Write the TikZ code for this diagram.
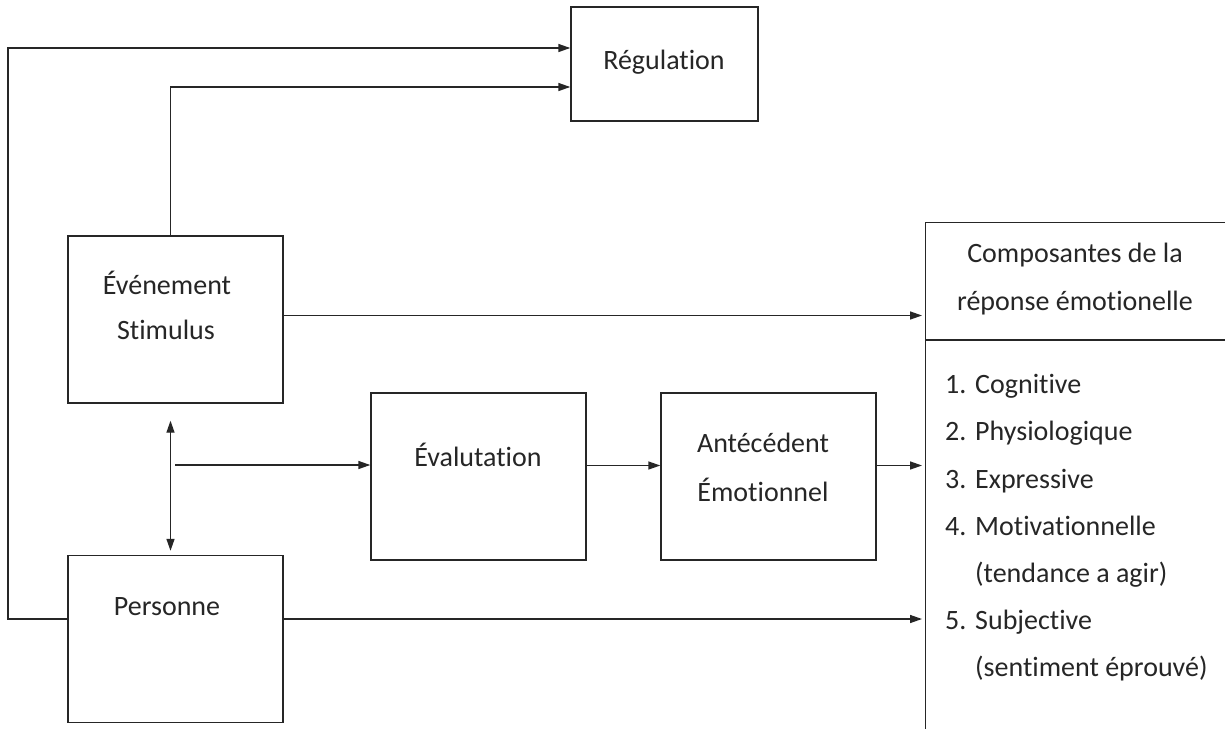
\documentclass[tikz,border=0pt]{standalone}
\usepackage{fontspec}
\setmainfont{Carlito}[Ligatures=NoCommon]
\usetikzlibrary{arrows.meta}
\definecolor{ink}{HTML}{262626}
\begin{document}
\begin{tikzpicture}[x=1pt,y=-1pt,
  box/.style={draw=ink, line width=1.4pt, minimum width=215pt, minimum height=167pt, inner sep=0pt},
  lbl/.style={text=ink, font=\fontsize{28}{34}\selectfont, inner sep=0pt},
  item/.style={lbl, anchor=base west},
  conn/.style={draw=ink, line width=1.4pt},
  arr/.style={conn, -{Triangle[length=12pt,width=8pt]}},
  dbl/.style={conn, {Triangle[length=12pt,width=8pt]}-{Triangle[length=12pt,width=8pt]}}]
\useasboundingbox (0,0) rectangle (1225,728);
\fill[white] (0,0) rectangle (1225,728);

% boxes
\node[box, minimum width=187pt, minimum height=114pt] (reg) at (664.5,64) {};
\node[box] (ev) at (175.5,319.5) {};
\node[box] (eva) at (478.5,476.5) {};
\node[box] (ant) at (768.5,476.5) {};
\node[box] (pe) at (175.5,639) {};
\node[draw=ink, line width=1.4pt, minimum width=340pt, minimum height=540pt, inner sep=0pt, anchor=north west] (comp) at (925,222) {};
\draw[conn] (925,340) -- (1240,340);

% labels
\node[lbl] (regt) at (664,62) {Régulation};
\node[lbl] (evt1) at (167,283) {Événement};
\node[lbl] (evt2) at (166,330) {Stimulus};
\node[lbl] (evat) at (478,455) {Évalutation};
\node[lbl] (antt1) at (763,443) {Antécédent};
\node[lbl] (antt2) at (763,490) {Émotionnel};
\node[lbl] (pet) at (167,607) {Personne};
\node[lbl] (ct1) at (1075,255) {Composantes de la};
\node[lbl] (ct2) at (1075,303) {réponse émotionelle};

\node[item] (n1) at (945,393) {1.};
\node[item] (i1) at (975,393) {Cognitive};
\node[item] (n2) at (945,440) {2.};
\node[item] (i2) at (975,440) {Physiologique};
\node[item] (n3) at (945,488) {3.};
\node[item] (i3) at (975,488) {Expressive};
\node[item] (n4) at (945,535) {4.};
\node[item] (i4) at (975,535) {Motivationnelle};
\node[item] (i4b) at (975,582) {(tendance a agir)};
\node[item] (n5) at (945,629) {5.};
\node[item] (i5) at (975,629) {Subjective};
\node[item] (i5b) at (975,676) {(sentiment éprouvé)};

% connectors
\coordinate (loop) at (8,48);
\draw[arr] ([yshift=20pt]pe.west) -| (loop) -- ([yshift=16pt]reg.west);
\draw[arr] ([xshift=-5pt]ev.north) |- ([yshift=-23pt]reg.west);
\draw[arr] ([yshift=4pt]ev.east) -- ([yshift=4pt,xshift=-3pt]ev.east -| comp.west);
\draw[dbl] ([xshift=-5pt,yshift=-17pt]ev.south) -- ([xshift=-5pt,yshift=4pt]pe.north);
\coordinate (split) at (175,465);
\draw[arr] (split) -- (split -| eva.west);
\draw[arr] ([yshift=11pt]eva.east) -- ([yshift=11pt]ant.west);
\draw[arr] ([yshift=11pt]ant.east) -- ([yshift=11pt,xshift=-3pt]ant.east -| comp.west);
\draw[arr] ([yshift=20pt]pe.east) -- ([yshift=20pt,xshift=-3pt]pe.east -| comp.west);
\end{tikzpicture}
\end{document}
